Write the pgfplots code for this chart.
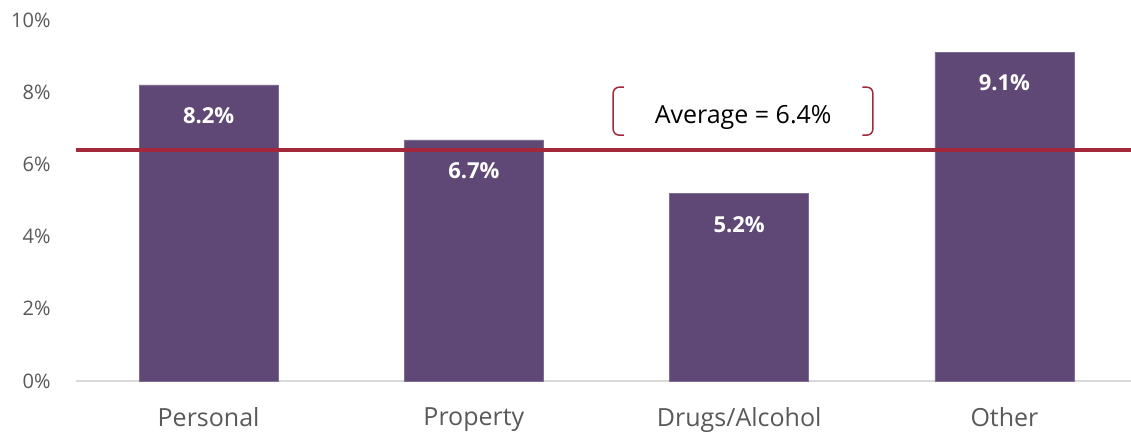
\documentclass[border=0pt]{standalone}
\usepackage{fontspec}
\setmainfont{Open Sans}
\usepackage{pgfplots}
\pgfplotsset{compat=1.18}
\definecolor{barc}{HTML}{5F4876}
\definecolor{avgc}{HTML}{A3283A}
\definecolor{tickc}{HTML}{595959}
\begin{document}
\begin{tikzpicture}
\path[use as bounding box] (-76bp,-51bp) rectangle (1055bp,381bp);
\begin{axis}[
  scale only axis,
  width=1055bp, height=361bp,
  xmin=-0.5, xmax=3.477,
  ymin=0, ymax=10,
  axis x line=bottom, axis y line=left,
  y axis line style={draw=none},
  x axis line style={draw=black!15, line width=1.5bp, -},
  major tick length=0pt,
  xtick={0,1,2,3},
  xticklabels={Personal,Property,Drugs/Alcohol,Other},
  xticklabel style={font=\fontsize{25bp}{30bp}\selectfont, text=tickc, yshift=-23bp},
  ytick={0,2,4,6,8,10},
  yticklabel={\pgfmathprintnumber{\tick}\%},
  yticklabel style={font=\fontsize{20bp}{24bp}\selectfont, text=tickc, xshift=-22bp},
  /pgf/number format/assume math mode=true,
  clip=false,
]
\addplot[ybar, bar width=139bp, fill=barc, draw=barc!80!white,
  point meta=y,
  nodes near coords={\pgfmathprintnumber[fixed,precision=1,fixed zerofill]{\pgfplotspointmeta}\%},
  every node near coord/.append style={anchor=center, yshift=-31bp, text=white, font=\bfseries\fontsize{22bp}{26bp}\selectfont}]
  coordinates {(0,8.2) (1,6.68) (2,5.2) (3,9.11)};
\addplot[avgc, line width=4bp, no marks] coordinates {(-0.5,6.4) (3.477,6.4)};
\draw[avgc, line width=1.5bp, rounded corners=6bp] (axis cs:1.565,8.14) -- (axis cs:1.525,8.14) -- (axis cs:1.525,6.81) -- (axis cs:1.565,6.81);
\draw[avgc, line width=1.5bp, rounded corners=6bp] (axis cs:2.464,8.14) -- (axis cs:2.504,8.14) -- (axis cs:2.504,6.81) -- (axis cs:2.464,6.81);
\node[font=\fontsize{25bp}{30bp}\selectfont, text=black] at (axis cs:2.015,7.3) {Average = 6.4\%};
\end{axis}
\end{tikzpicture}
\end{document}
